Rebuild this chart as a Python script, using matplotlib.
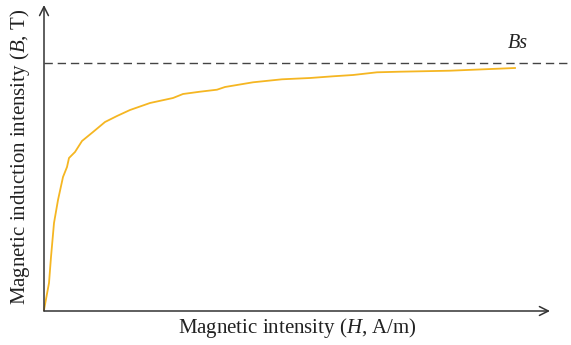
import matplotlib
matplotlib.use("Agg")
import matplotlib.pyplot as plt

# Data (arbitrary units)
H = [0, 5, 7, 10, 14, 19, 23, 25, 31, 38, 49, 61, 73, 86, 106, 129, 139, 156,
     173, 181, 209, 238, 266, 289, 309, 333, 356, 406, 471]
B = [1, 28, 54, 88, 111, 134, 144, 153, 159, 170, 179, 189, 195, 201, 208, 213,
     217, 219.3, 221.3, 224, 228.7, 231.7, 233, 234.7, 236, 238.7, 239.3, 240.3, 243]
Bs = 248
x_max = 506
y_max = 306

plt.rcParams['font.family'] = ['Liberation Serif', 'DejaVu Serif']
plt.rcParams['mathtext.fontset'] = 'custom'
plt.rcParams['mathtext.it'] = 'Liberation Serif:italic'
plt.rcParams['mathtext.rm'] = 'Liberation Serif'

fig = plt.figure(figsize=(5.71, 3.45), dpi=100)
ax = fig.add_axes([44/571, 34/345, 506/571, 306/345])
ax.set_xlim(0, x_max)
ax.set_ylim(0, y_max)
for s in ['top', 'right', 'left', 'bottom']:
    ax.spines[s].set_visible(False)
ax.set_xticks([])
ax.set_yticks([])

axis_col = '#333333'
ax.annotate('', xy=(1, 0), xytext=(0, 0), xycoords='axes fraction',
            arrowprops=dict(arrowstyle='->', lw=1.1, color=axis_col,
                            mutation_scale=16, shrinkA=0, shrinkB=0))
ax.annotate('', xy=(0, 1), xytext=(0, 0), xycoords='axes fraction',
            arrowprops=dict(arrowstyle='->', lw=1.1, color=axis_col,
                            mutation_scale=16, shrinkA=0, shrinkB=0))

ax.plot(H, B, color='#F5B622', lw=1.3, clip_on=False, solid_joinstyle='round')
ax.plot([0, 527], [Bs, Bs], color='#444444', lw=1.0, dashes=(6, 3.5), clip_on=False)
ax.text(474, Bs + 10, 'Bs', style='italic', fontsize=14.5, color='#222222',
        ha='center', va='bottom')

fig.text(297/571, 1 - 328/345, r'Magnetic intensity ($\mathit{H}$, A/m)',
         ha='center', va='center', fontsize=15, color='#222222')
fig.text(20/571, 1 - 157/345, r'Magnetic induction intensity ($\mathit{B}$, T)',
         ha='center', va='center', rotation=90, fontsize=15, color='#222222')

fig.savefig('out.png', dpi=100)
